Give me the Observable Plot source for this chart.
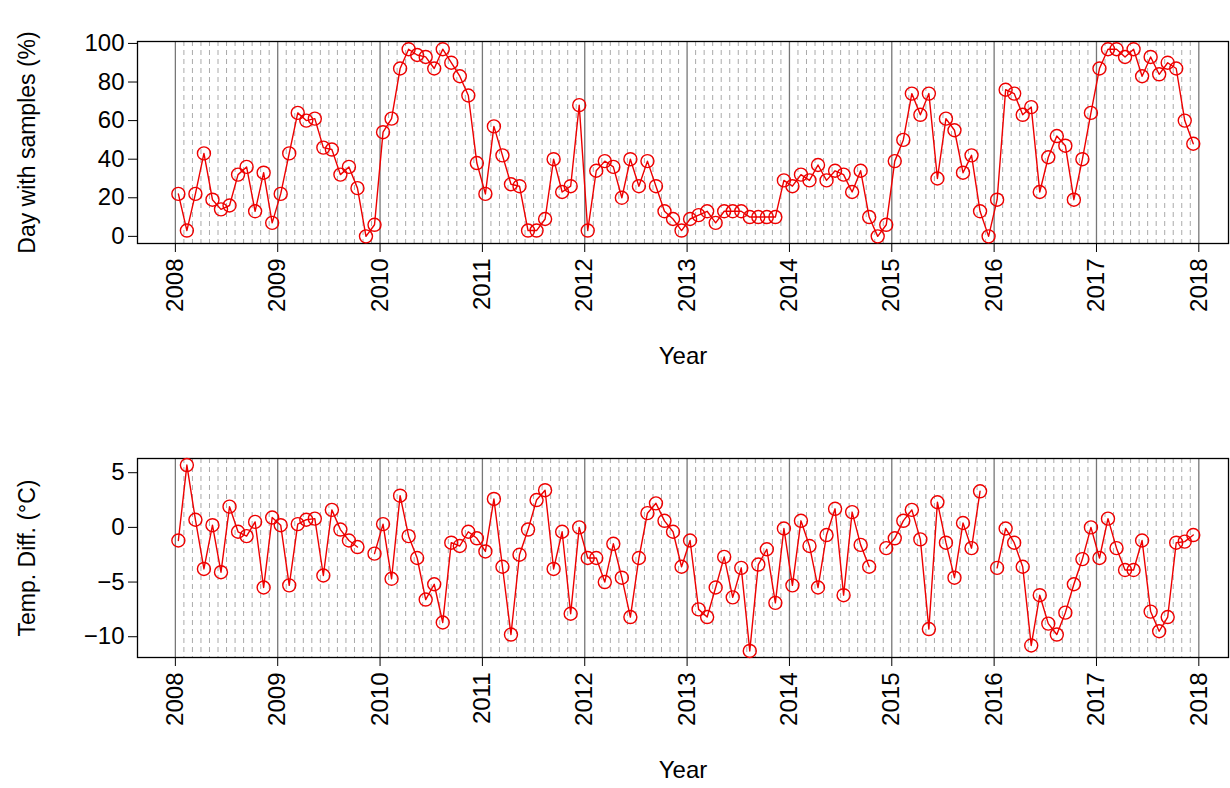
<!DOCTYPE html>
<html><head><meta charset="utf-8">
<script src="https://cdn.jsdelivr.net/npm/d3@7"></script>
<script src="https://cdn.jsdelivr.net/npm/@observablehq/plot@0.6"></script>
<style>
body{margin:0;background:#fff;font-family:"Liberation Sans",Arial,sans-serif}
svg{display:block}
</style></head><body><div id="c"></div>
<script>
const years = [2008,2009,2010,2011,2012,2013,2014,2015,2016,2017];
const tickYears = [2008,2009,2010,2011,2012,2013,2014,2015,2016,2017,2018];
const samples = [
22,3,22,43,19,14,16,32,36,13,33,7,
22,43,64,60,61,46,45,32,36,25,0,6,
54,61,87,97,94,93,87,97,90,83,73,38,
22,57,42,27,26,3,3,9,40,23,26,68,
3,34,39,36,20,40,26,39,26,13,9,3,
9,11,13,7,13,13,13,10,10,10,10,29,
26,32,29,37,29,34,32,23,34,10,0,6,
39,50,74,63,74,30,61,55,33,42,13,0,
19,76,74,63,67,23,41,52,47,19,40,64,
87,97,97,93,97,83,93,84,90,87,60,48];
const tempDiff = [
-1.2,5.7,0.7,-3.8,0.2,-4.1,1.9,-0.4,-0.8,0.5,-5.5,0.9,
0.2,-5.3,0.3,0.7,0.8,-4.4,1.6,-0.2,-1.2,-1.8,null,-2.4,
0.3,-4.7,2.9,-0.8,-2.8,-6.6,-5.2,-8.7,-1.4,-1.7,-0.4,-1.0,
-2.2,2.6,-3.6,-9.8,-2.5,-0.2,2.5,3.4,-3.8,-0.4,-7.9,0.0,
-2.8,-2.8,-5.0,-1.5,-4.6,-8.2,-2.8,1.3,2.2,0.6,-0.4,-3.6,
-1.2,-7.5,-8.2,-5.5,-2.7,-6.4,-3.7,-11.3,-3.4,-2.0,-6.9,-0.1,
-5.3,0.6,-1.7,-5.5,-0.7,1.7,-6.2,1.4,-1.6,-3.6,null,-1.9,
-1.0,0.6,1.6,-1.1,-9.3,2.3,-1.4,-4.6,0.4,-1.9,3.3,null,
-3.7,-0.1,-1.4,-3.6,-10.8,-6.2,-8.8,-9.8,-7.8,-5.2,-2.9,0.0,
-2.8,0.8,-1.9,-3.9,-3.9,-1.2,-7.7,-9.5,-8.2,-1.4,-1.3,-0.7];

const months = d3.range(120).map(i => years[0] + (i + 0.35) / 12);
const monthGrid = d3.range(120).filter(i => i % 12 !== 0).map(i => years[0] + i/12);
const dataTop = months.map((x,i)=>({x, y: samples[i]}));
const dataBot = months.map((x,i)=>({x, y: tempDiff[i]}));

function panel(data, yDomain, yTicks, ylabel, mt, mb, h, yearDy) {
  return Plot.plot({
    width: 1230, height: h, marginLeft: 137, marginRight: 2, marginTop: mt, marginBottom: mb,
    style: {fontFamily: '"Liberation Sans",Arial,sans-serif', fontSize: "24px", color: "#000", background: "#fff"},
    x: {domain: [2007.63, 2018.29]},
    y: {domain: yDomain},
    marks: [
      Plot.ruleX(monthGrid, {stroke: "#aaa", strokeDasharray: "5,4", strokeWidth: 1}),
      Plot.ruleX(tickYears, {stroke: "#777", strokeWidth: 1.3}),
      Plot.frame({stroke: "#000", strokeWidth: 1.3}),
      Plot.axisX({ticks: tickYears, tickFormat: d => String(d), tickRotate: -90, tickSize: 9, tickPadding: 6, fontSize: 24, label: null}),
      Plot.axisY({ticks: yTicks, tickSize: 9, tickPadding: 4, fontSize: 24, label: null}),
      Plot.ruleX([2007.63], {y1: yTicks[0], y2: yTicks[yTicks.length-1], stroke: "#000"}),
      Plot.line(data, {x: "x", y: "y", stroke: "#e00", strokeWidth: 1.4}),
      Plot.dot(data.filter(d => d.y != null), {x: "x", y: "y", r: 6.5, stroke: "#e00", strokeWidth: 1.4, fill: "none"}),
      Plot.text([ylabel], {frameAnchor: "left", textAnchor: "middle", dx: -110, rotate: -90, fontSize: 23, text: d => d}),
      Plot.text(["Year"], {frameAnchor: "bottom", dy: yearDy, fontSize: 24, text: d => d})
    ]
  });
}
const c = document.getElementById("c");
const svgTop = panel(dataTop, [-3.7, 101], [0,20,40,60,80,100], "Day with samples (%)", 41, 149, 392, 120);
const svgBot = panel(dataBot, [-11.9, 6.3], [-10,-5,0,5], "Temp. Diff. (°C)", 66, 127, 392, 120);
c.appendChild(svgTop);
c.appendChild(svgBot);
</script></body></html>
